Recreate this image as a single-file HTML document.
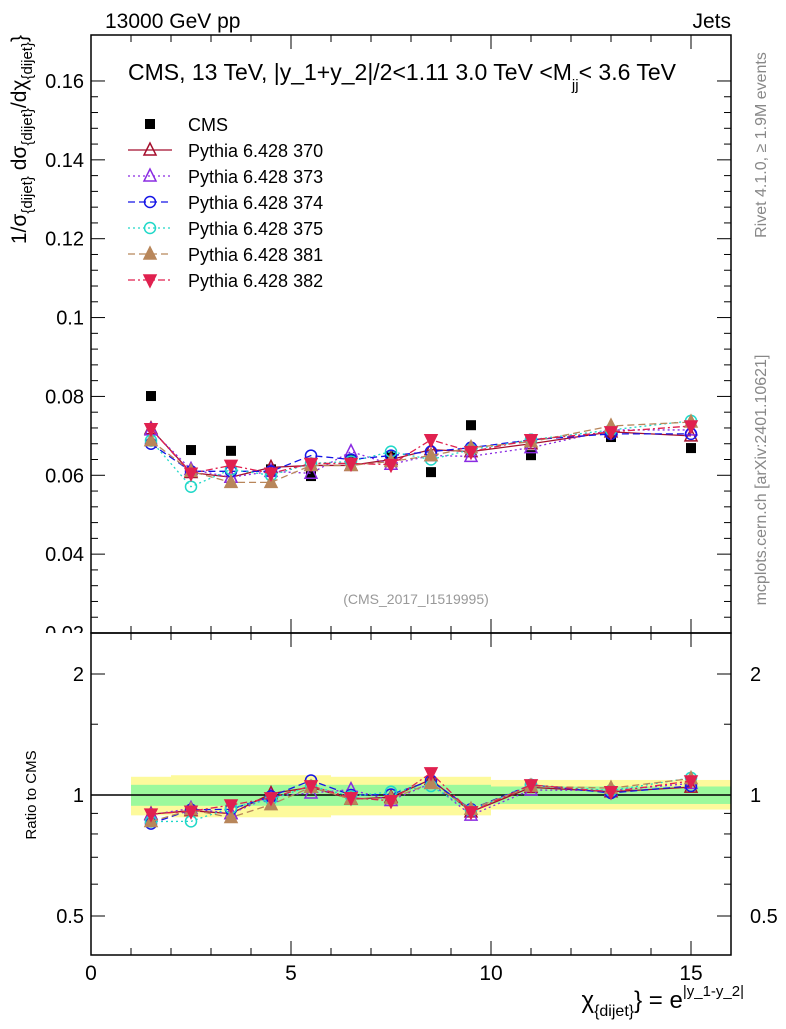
<!DOCTYPE html>
<html><head><meta charset="utf-8"><style>
body{margin:0;background:#fff;width:786px;height:1024px;overflow:hidden}
svg{font-family:"Liberation Sans",sans-serif}
</style></head><body>
<svg id="c" width="786" height="1024"></svg>
<script>
const xs=[1.5,2.5,3.5,4.5,5.5,6.5,7.5,8.5,9.5,11,13,15];
const binLo=[1,2,3,4,5,6,7,8,9,10,12,14];
const binHi=[2,3,4,5,6,7,8,9,10,12,14,16];
const cms=[0.0801,0.0664,0.0662,0.0615,0.0598,0.0640,0.0648,0.0608,0.0727,0.0651,0.0697,0.0669];
const yelHi=[1.11,1.12,1.12,1.12,1.12,1.11,1.11,1.11,1.11,1.09,1.09,1.09];
const yelLo=[0.89,0.88,0.88,0.88,0.88,0.89,0.89,0.89,0.89,0.92,0.92,0.92];
const grnHi=[1.06,1.06,1.06,1.06,1.06,1.06,1.06,1.06,1.06,1.05,1.05,1.05];
const grnLo=[0.94,0.94,0.94,0.94,0.94,0.94,0.94,0.94,0.94,0.95,0.95,0.95];
const s370=[0.0718,0.0607,0.0595,0.0620,0.0625,0.0625,0.0640,0.0665,0.0660,0.0680,0.0710,0.0700];
const s373=[0.0715,0.0615,0.0595,0.0610,0.0605,0.0660,0.0628,0.0650,0.0648,0.0670,0.0715,0.0715];
const s374=[0.0680,0.0610,0.0610,0.0610,0.0650,0.0640,0.0650,0.0660,0.0670,0.0690,0.0705,0.0705];
const s375=[0.0688,0.0571,0.0615,0.0600,0.0630,0.0635,0.0660,0.0640,0.0665,0.0690,0.0715,0.0738];
const s381=[0.0688,0.0610,0.0582,0.0582,0.0625,0.0625,0.0635,0.0650,0.0670,0.0685,0.0725,0.0735];
const s382=[0.0718,0.0605,0.0625,0.0605,0.0630,0.0630,0.0627,0.0690,0.0660,0.0690,0.0710,0.0725];
const series=[
 {name:'Pythia 6.428 370',d:s370,c:'#a50f2d',dash:'',m:'tri',fill:false},
 {name:'Pythia 6.428 373',d:s373,c:'#8a2be2',dash:'2,3',m:'tri',fill:false},
 {name:'Pythia 6.428 374',d:s374,c:'#1515e6',dash:'7,4',m:'circ',fill:false},
 {name:'Pythia 6.428 375',d:s375,c:'#20d8c8',dash:'2,3',m:'circ',fill:false},
 {name:'Pythia 6.428 381',d:s381,c:'#b8865a',dash:'7,4',m:'tri',fill:true},
 {name:'Pythia 6.428 382',d:s382,c:'#e0214f',dash:'7,3,2,3',m:'dtri',fill:true}];
const NS='http://www.w3.org/2000/svg';
const svg=document.getElementById('c');
function el(t,a,p){const e=document.createElementNS(NS,t);for(const k in a)e.setAttribute(k,a[k]);(p||svg).appendChild(e);return e;}
const X=v=>91+v*40;
const Y=v=>633-(v-0.02)*3943;
const R=v=>795-Math.log2(v)*121;
const defs=el('defs',{});
const cp=el('clipPath',{id:'topclip'},defs);el('rect',{x:0,y:0,width:786,height:633},cp);
function txt(s,a,name){const t=el('text',a);t.textContent=s;return t;}
for(let i=0;i<xs.length;i++){
 const y=el('rect',{x:X(binLo[i]),y:R(yelHi[i]),width:X(binHi[i])-X(binLo[i]),height:R(yelLo[i])-R(yelHi[i]),fill:'#fdfa9c'});
 
 const g=el('rect',{x:X(binLo[i]),y:R(grnHi[i]),width:X(binHi[i])-X(binLo[i]),height:R(grnLo[i])-R(grnHi[i]),fill:'#9cf99c'});
 
}
const ref=el('line',{x1:91,x2:731,y1:R(1),y2:R(1),stroke:'#000','stroke-width':1.5});

for(const f of [[35,633],[633,955]]){const r=el('rect',{x:91,y:f[0],width:640,height:f[1]-f[0],fill:'none',stroke:'#000','stroke-width':1.5});}
for(let v=0;v<=16;v++){const L=v%5==0?14:7;
 for(const [t,b] of [[35,633],[633,955]]){el('line',{x1:X(v),x2:X(v),y1:b,y2:b-L,stroke:'#000'});el('line',{x1:X(v),x2:X(v),y1:t,y2:t+L,stroke:'#000'});}}
[0,5,10,15].forEach(v=>txt(String(v),{x:X(v),y:980,'font-size':21,'text-anchor':'middle'},'x-tick-label'));
for(let k=0;k<=35;k++){const v=0.02+k*0.004;const y=Y(v);if(y<35)break;const maj=k%5==0;const L=maj?14:7;
 el('line',{x1:91,x2:91+L,y1:y,y2:y,stroke:'#000'});el('line',{x1:731,x2:731-L,y1:y,y2:y,stroke:'#000'});
 if(maj){const lab=(Math.round(v*100)/100).toString();txt(lab,{x:84,y:y+7,'font-size':20,'text-anchor':'end','clip-path':'url(#topclip)'},'y-tick-label');}}
[0.5,1,2].forEach(v=>{const y=R(v);el('line',{x1:91,x2:105,y1:y,y2:y,stroke:'#000'});el('line',{x1:731,x2:717,y1:y,y2:y,stroke:'#000'});
 txt(String(v),{x:84,y:y+7,'font-size':20,'text-anchor':'end'},'ratio-tick-label');txt(String(v),{x:750,y:y+7,'font-size':20},'ratio-tick-label-right');});
[0.6,0.7,0.8,0.9,1.5].forEach(v=>{const y=R(v);el('line',{x1:91,x2:98,y1:y,y2:y,stroke:'#000'});el('line',{x1:731,x2:724,y1:y,y2:y,stroke:'#000'});});
function marker(g,type,x,y,c,fill,s){s=s||6;
 if(type=='sq')return el('rect',{x:x-5,y:y-5,width:10,height:10,fill:'#000'},g);
 if(type=='circ')return el('circle',{cx:x,cy:y,r:s-0.5,fill:fill?c:'none',stroke:c,'stroke-width':1.5},g);
 if(type=='tri')return el('polygon',{points:`${x},${y-s-1} ${x-s},${y+s-1} ${x+s},${y+s-1}`,fill:fill?c:'none',stroke:c,'stroke-width':1.5},g);
 return el('polygon',{points:`${x},${y+s+1} ${x-s},${y-s+1} ${x+s},${y-s+1}`,fill:fill?c:'none',stroke:c,'stroke-width':1.5},g);}
const cg=el('g',{});
xs.forEach((x,i)=>{const m=marker(cg,'sq',X(x),Y(cms[i]));});
const lc=el('g',{});
marker(lc,'sq',150,124);const lt=el('text',{x:188,y:131,'font-size':18},lc);lt.textContent='CMS';
series.forEach((s,si)=>{
 const g=el('g',{});
 el('polyline',{points:xs.map((x,i)=>X(x)+','+Y(s.d[i])).join(' '),fill:'none',stroke:s.c,'stroke-width':1.3,'stroke-dasharray':s.dash},g);
 el('polyline',{points:xs.map((x,i)=>X(x)+','+R(s.d[i]/cms[i])).join(' '),fill:'none',stroke:s.c,'stroke-width':1.3,'stroke-dasharray':s.dash},g);
 xs.forEach((x,i)=>{const m=marker(g,s.m,X(x),Y(s.d[i]),s.c,s.fill);
  const m2=marker(g,s.m,X(x),R(s.d[i]/cms[i]),s.c,s.fill);});
 const ly=124+26*(si+1);
 const lg=el('g',{});
 el('line',{x1:128,x2:172,y1:ly,y2:ly,stroke:s.c,'stroke-width':1.3,'stroke-dasharray':s.dash},lg);
 marker(lg,s.m,150,ly,s.c,s.fill);
 const t=el('text',{x:188,y:ly+7,'font-size':18},lg);t.textContent=s.name;
});
txt('13000 GeV pp',{x:105,y:28,'font-size':21},'energy-label');
txt('Jets',{x:731,y:28,'font-size':21,'text-anchor':'end'},'process-label');
const ti=txt('',{x:128,y:80,'font-size':23},'plot-title');
ti.innerHTML='CMS, 13 TeV, |y_1+y_2|/2&lt;1.11 3.0 TeV &lt;M<tspan font-size="15" dy="10">jj</tspan><tspan dy="-10">&lt; 3.6 TeV</tspan>';
txt('(CMS_2017_I1519995)',{x:416,y:604,'font-size':14,fill:'#999','text-anchor':'middle'},'analysis-id');
txt('Rivet 4.1.0, ≥ 1.9M events',{x:0,y:0,'font-size':16,fill:'#888','text-anchor':'middle',transform:'translate(766,145) rotate(-90)'},'rivet-label');
txt('mcplots.cern.ch [arXiv:2401.10621]',{x:0,y:0,'font-size':16,fill:'#888','text-anchor':'middle',transform:'translate(766,480) rotate(-90)'},'mcplots-label');
const yl=txt('',{x:0,y:0,'font-size':21,'text-anchor':'end',transform:'translate(26,35) rotate(-90)'},'y-axis-title');
yl.innerHTML='1/σ<tspan font-size="15" dy="6">{dijet}</tspan><tspan dy="-6"> dσ</tspan><tspan font-size="15" dy="6">{dijet}</tspan><tspan dy="-6">/dχ</tspan><tspan font-size="15" dy="6">{dijet}</tspan><tspan dy="-6">}</tspan>';
txt('Ratio to CMS',{x:0,y:0,'font-size':15,'text-anchor':'middle',transform:'translate(36,795) rotate(-90)'},'ratio-axis-title');
const xl=txt('',{x:744,y:1008,'font-size':24,'text-anchor':'end'},'x-axis-title');
xl.innerHTML='χ<tspan font-size="16" dy="8">{dijet}</tspan><tspan dy="-8">} = e</tspan><tspan font-size="15" dy="-12">|y_1-y_2|</tspan>';
</script>
</body></html>
